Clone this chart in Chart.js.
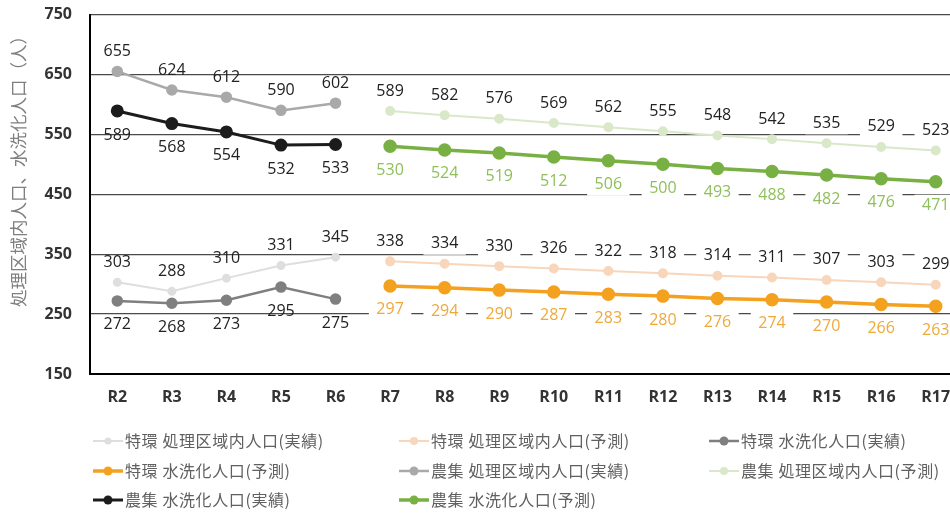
<!DOCTYPE html>
<html><head><meta charset="utf-8">
<script src="https://cdn.jsdelivr.net/npm/chart.js@4.4.0/dist/chart.umd.min.js"></script>
<style>
html,body{margin:0;padding:0;background:#fff;overflow:hidden;width:950px;height:519px}
canvas{display:block}
</style></head><body>
<canvas id="c" width="963" height="519"></canvas>
<script>
// Fiscal years R2–R6 are actuals, R7–R17 are projections
const categories = ['R2','R3','R4','R5','R6','R7','R8','R9','R10','R11','R12','R13','R14','R15','R16','R17'];
const yTicks = [150, 250, 350, 450, 550, 650, 750];

// 特環 (特定環境保全公共下水道)
const tokkanAreaActual   = [303, 288, 310, 331, 345];
const tokkanAreaForecast = [338, 334, 330, 326, 322, 318, 314, 311, 307, 303, 299];
const tokkanConnActual   = [272, 268, 273, 295, 275];
const tokkanConnForecast = [297, 294, 290, 287, 283, 280, 276, 274, 270, 266, 263];

// 農集 (農業集落排水)
const noshuAreaActual    = [655, 624, 612, 590, 602];
const noshuAreaForecast  = [589, 582, 576, 569, 562, 555, 548, 542, 535, 529, 523];
const noshuConnActual    = [589, 568, 554, 532, 533];
const noshuConnForecast  = [530, 524, 519, 512, 506, 500, 493, 488, 482, 476, 471];

const seriesNames = [
  '特環 処理区域内人口(実績)', '特環 処理区域内人口(予測)', '特環 水洗化人口(実績)',
  '特環 水洗化人口(予測)', '農集 処理区域内人口(実績)', '農集 処理区域内人口(予測)',
  '農集 水洗化人口(実績)', '農集 水洗化人口(予測)'
];
const yTitle = '処理区域内人口、水洗化人口（人）';

const nActual = tokkanAreaActual.length;
const asActual = a => categories.map((_, i) => i < nActual ? a[i] : null);
const asForecast = a => categories.map((_, i) => i >= nActual ? a[i - nActual] : null);

function line(label, data, color, width, radius, labelPos, labelColor, labelBox) {
  return {
    label, data, borderColor: color, backgroundColor: color,
    pointBackgroundColor: color, pointBorderColor: color,
    borderWidth: width, pointRadius: radius, pointHoverRadius: radius,
    tension: 0, labelPos, labelColor, labelBox
  };
}

const datasets = [
  line(seriesNames[0], asActual(tokkanAreaActual),     '#dedede', 2,   3.5, 'above', '#222', false),
  line(seriesNames[1], asForecast(tokkanAreaForecast), '#f8d6bb', 2,   4,   'above', '#222', true),
  line(seriesNames[2], asActual(tokkanConnActual),     '#7f7f7f', 2.5, 4.5, 'below', '#222', false),
  line(seriesNames[3], asForecast(tokkanConnForecast), '#f4a11f', 3.5, 5,   'below', '#eea93a', true),
  line(seriesNames[4], asActual(noshuAreaActual),      '#a9a9a9', 2.5, 4.5, 'above', '#222', false),
  line(seriesNames[5], asForecast(noshuAreaForecast),  '#d9e8c8', 2,   4,   'above', '#222', true),
  line(seriesNames[6], asActual(noshuConnActual),      '#1c1c1c', 3,   5,   'below', '#222', false),
  line(seriesNames[7], asForecast(noshuConnForecast),  '#78b043', 3.5, 5,   'below', '#8fbf5a', true)
];

// value labels above / below each point; projection labels sit on a white box
const valueLabels = {
  id: 'valueLabels',
  afterDatasetsDraw(chart) {
    const ctx = chart.ctx;
    ctx.save();
    ctx.font = '16px "Open Sans"';
    ctx.textAlign = 'center';
    ctx.textBaseline = 'middle';
    chart.data.datasets.forEach((ds, i) => {
      const meta = chart.getDatasetMeta(i);
      meta.data.forEach((pt, j) => {
        const v = ds.data[j];
        if (v == null) return;
        const y = pt.y + (ds.labelPos === 'above' ? -20 : 24);
        const txt = String(v);
        if (ds.labelBox) {
          const w = ctx.measureText(txt).width + 15;
          ctx.fillStyle = '#fff';
          ctx.fillRect(pt.x - w / 2, y - 11, w, 22);
        }
        ctx.fillStyle = ds.labelColor;
        ctx.fillText(txt, pt.x, y);
      });
    });
    ctx.restore();
  }
};

// three-column legend under the axis and the rotated y title
const legendAndTitle = {
  id: 'legendAndTitle',
  afterDraw(chart) {
    const ctx = chart.ctx;
    ctx.save();
    const colX = [93, 399, 709];
    const rowY = [441, 471, 500];
    ctx.font = '16px "Noto Sans CJK JP"';
    ctx.letterSpacing = '0.6px';
    ctx.textBaseline = 'middle';
    ctx.textAlign = 'left';
    chart.data.datasets.forEach((ds, i) => {
      const x = colX[i % 3], y = rowY[Math.floor(i / 3)];
      ctx.strokeStyle = ds.borderColor;
      ctx.lineWidth = ds.borderWidth;
      ctx.beginPath(); ctx.moveTo(x, y); ctx.lineTo(x + 30, y); ctx.stroke();
      ctx.fillStyle = ds.borderColor;
      ctx.beginPath(); ctx.arc(x + 15, y, Math.min(ds.pointRadius, 4.5), 0, Math.PI * 2); ctx.fill();
      ctx.fillStyle = '#606060';
      ctx.fillText(ds.label, x + 32, y);
    });
    ctx.letterSpacing = '0px';
    ctx.translate(18, 167);
    ctx.rotate(-Math.PI / 2);
    ctx.textAlign = 'center';
    ctx.font = '17.5px "Noto Sans CJK JP"';
    ctx.fillStyle = '#7f7f7f';
    ctx.fillText(yTitle, 0, 0);
    ctx.restore();
  }
};

new Chart(document.getElementById('c'), {
  type: 'line',
  data: { labels: categories, datasets },
  plugins: [valueLabels, legendAndTitle],
  options: {
    responsive: false,
    animation: false,
    layout: { autoPadding: false, padding: { top: 14.5, right: 0, bottom: 0, left: 0 } },
    plugins: { legend: { display: false }, tooltip: { enabled: false } },
    scales: {
      x: {
        offset: true,
        grid: { display: false, drawTicks: false },
        border: { color: '#000', width: 2 },
        ticks: { color: '#333', font: { family: 'Open Sans', size: 16, weight: 'bold' }, padding: 14 },
        afterFit: s => { s.height = 145; s.paddingLeft = 0; s.paddingRight = 0; }
      },
      y: {
        min: yTicks[0], max: yTicks[yTicks.length - 1],
        afterBuildTicks: s => { s.ticks = yTicks.map(v => ({ value: v })); },
        grid: { color: '#4a4a4a', lineWidth: 1.3, drawTicks: false },
        border: { color: '#000', width: 2 },
        ticks: { color: '#333', font: { family: 'Open Sans', size: 16, weight: 'bold' }, padding: 18 },
        afterFit: s => { s.width = 90; s.paddingTop = 0; s.paddingBottom = 0; }
      }
    }
  }
});
</script>
</body></html>
